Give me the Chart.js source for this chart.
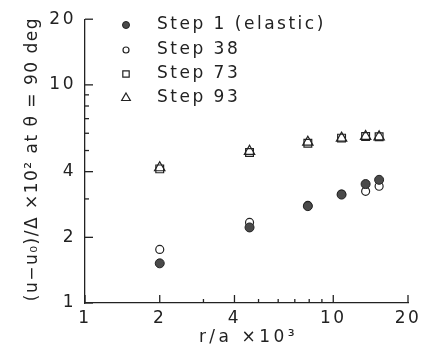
<!DOCTYPE html>
<html>
<head>
<meta charset="utf-8">
<script src="https://cdn.jsdelivr.net/npm/chart.js@4.4.0/dist/chart.umd.min.js"></script>
<style>
  html, body { margin: 0; padding: 0; background: #fff; }
  #chart { display: block; }
</style>
</head>
<body>
<canvas id="chart" width="432" height="352"></canvas>
<script>
// r/a x 10^3 of each station
const radius = [2, 4.6, 7.9, 10.8, 13.5, 15.3];
// (u-u0)/Δ x 10^2 at θ = 90 deg
const step1  = [1.52, 2.22, 2.78, 3.14, 3.51, 3.67];
const step38 = [1.76, 2.34, 2.80, 3.16, 3.25, 3.43];
const step73 = [4.12, 4.90, 5.40, 5.70, 5.80, 5.78];
const step93 = [4.17, 4.96, 5.46, 5.70, 5.80, 5.78];
const seriesNames = ['Step 1 (elastic)', 'Step 38', 'Step 73', 'Step 93'];

// log axis tick positions, only some carry a label
const tickValues = [1, 2, 3, 4, 5, 6, 7, 8, 9, 10, 20];
const labelledTicks = [1, 2, 4, 10, 20];

const INK = '#222';
const FONT = { family: '"DejaVu Sans"', size: 17 };
const SPACING = '2.5px';

const pts = ys => radius.map((x, i) => ({ x, y: ys[i] }));

const styles = [
  { pointStyle: 'circle',   pointRadius: 4.5, pointBackgroundColor: '#4a4a4a', pointBorderColor: INK, pointBorderWidth: 1 },
  { pointStyle: 'circle',   pointRadius: 4,   pointBackgroundColor: 'rgba(255,255,255,0)', pointBorderColor: INK, pointBorderWidth: 1.2 },
  { pointStyle: 'rect',     pointRadius: 5.5, pointBackgroundColor: 'rgba(255,255,255,0)', pointBorderColor: INK, pointBorderWidth: 1.2 },
  { pointStyle: 'triangle', pointRadius: 6,   pointBackgroundColor: 'rgba(255,255,255,0)', pointBorderColor: INK, pointBorderWidth: 1.2 }
];

const datasets = [step1, step38, step73, step93].map((ys, i) => Object.assign({
  label: seriesNames[i],
  data: pts(ys),
  showLine: false
}, styles[i]));

const tickLabel = v => labelledTicks.includes(v) ? String(v) : '';

// inward tick marks, axis titles and the legend
const decorations = {
  id: 'decorations',
  beforeDraw(chart) {
    chart.ctx.letterSpacing = SPACING;
  },
  afterDraw(chart) {
    const { ctx, chartArea: a, scales: { x, y } } = chart;
    ctx.save();
    ctx.strokeStyle = INK;
    ctx.lineWidth = 1.3;
    tickValues.forEach(v => {
      const len = labelledTicks.includes(v) ? 8 : 4;
      const px = x.getPixelForValue(v);
      ctx.beginPath(); ctx.moveTo(px, a.bottom); ctx.lineTo(px, a.bottom - len); ctx.stroke();
      const py = y.getPixelForValue(v);
      ctx.beginPath(); ctx.moveTo(a.left, py); ctx.lineTo(a.left + len, py); ctx.stroke();
    });

    ctx.fillStyle = INK;
    ctx.font = `${FONT.size}px ${FONT.family}`;
    ctx.textAlign = 'center';
    ctx.textBaseline = 'middle';
    ctx.letterSpacing = '3.5px';
    ctx.fillText('r/a ×10³', (a.left + a.right) / 2 + 2, 338);

    ctx.letterSpacing = '1.5px';
    ctx.save();
    ctx.translate(33, (a.top + a.bottom) / 2 - 2);
    ctx.rotate(-Math.PI / 2);
    ctx.fillText('(u−u₀)/Δ ×10² at θ = 90 deg', 0, 0);
    ctx.restore();

    // legend
    const rows = [25, 50, 74, 98];
    ctx.letterSpacing = SPACING;
    ctx.textAlign = 'left';
    chart.data.datasets.forEach((ds, i) => {
      ctx.fillStyle = ds.pointBackgroundColor;
      ctx.strokeStyle = ds.pointBorderColor;
      ctx.lineWidth = ds.pointBorderWidth;
      Chart.helpers.drawPoint(ctx, {
        pointStyle: ds.pointStyle,
        radius: ds.pointRadius - 1,
        borderWidth: ds.pointBorderWidth
      }, 126, rows[i]);
      ctx.fillStyle = INK;
      ctx.fillText(ds.label, 157, rows[i]);
    });
    ctx.restore();
  }
};

new Chart(document.getElementById('chart'), {
  type: 'scatter',
  data: { datasets },
  options: {
    responsive: false,
    animation: false,
    events: [],
    layout: { padding: { top: 14, right: 24, left: 0, bottom: 0 } },
    plugins: { legend: { display: false }, tooltip: { enabled: false } },
    scales: {
      x: {
        type: 'logarithmic',
        min: 1, max: 20,
        afterBuildTicks: s => { s.ticks = tickValues.map(value => ({ value })); },
        afterFit: s => { s.height = 49; },
        grid: { drawOnChartArea: false, drawTicks: false },
        border: { color: INK, width: 1.3 },
        ticks: { font: FONT, color: INK, padding: 5, autoSkip: false, maxRotation: 0, callback: tickLabel }
      },
      y: {
        type: 'logarithmic',
        min: 1, max: 20,
        afterBuildTicks: s => { s.ticks = tickValues.map(value => ({ value })); },
        afterFit: s => { s.width = 85; },
        grid: { drawOnChartArea: false, drawTicks: false },
        border: { color: INK, width: 1.3 },
        ticks: { font: FONT, color: INK, padding: 9, autoSkip: false, callback: tickLabel }
      }
    }
  },
  plugins: [decorations]
});
</script>
</body>
</html>
